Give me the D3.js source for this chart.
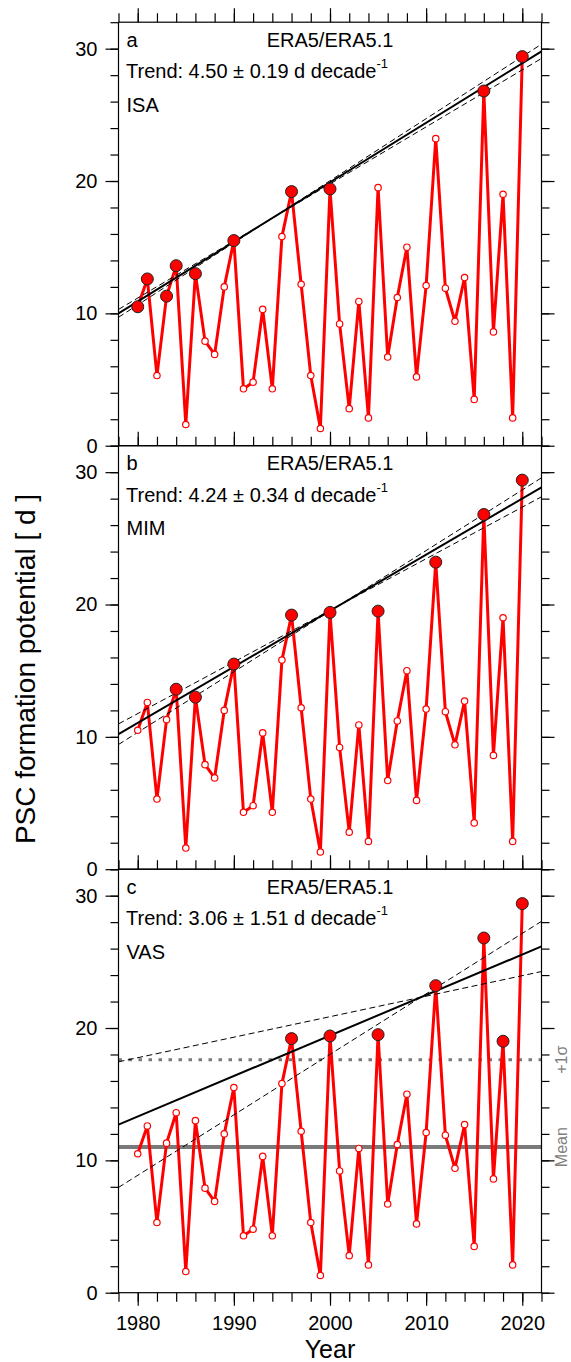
<!DOCTYPE html>
<html>
<head>
<meta charset="utf-8">
<script src="https://cdn.jsdelivr.net/npm/d3@7"></script>
<style>
  body { margin: 0; background: #fff; }
  svg { font-family: "Liberation Sans", Arial, Helvetica, sans-serif; }
</style>
</head>
<body>
<svg width="571" height="1362"></svg>
<script>
// PSC formation potential per year (d), same series in all three panels
var years = d3.range(1980, 2021);
var psc = [10.5, 12.6, 5.3, 11.3, 13.6, 1.6, 13.0, 7.9, 6.9, 12.0,
           15.5, 4.3, 4.8, 10.3, 4.3, 15.8, 19.2, 12.2, 5.3, 1.3,
           19.4, 9.2, 2.8, 10.9, 2.1, 19.5, 6.7, 11.2, 15.0, 5.2,
           12.1, 23.2, 11.9, 9.4, 12.7, 3.5, 26.8, 8.6, 19.0, 2.1,
           29.4];

var panelLetters = ["a", "b", "c"];
var methods = ["ISA", "MIM", "VAS"];
var filledYears = [
    [1980, 1981, 1983, 1984, 1986, 1990, 1996, 2000, 2016, 2020],
    [1984, 1986, 1990, 1996, 2000, 2005, 2011, 2016, 2020],
    [1996, 2000, 2005, 2011, 2016, 2018, 2020]
];
var trendRates = [4.50, 4.24, 3.06];   // d per decade
var trendErrors = [0.19, 0.34, 1.51];
var trendAt1978 = [10.0, 10.2, 12.7];
var meanVAS = 11.0;
var plusSigmaVAS = 17.6;

var yMajor = [0, 10, 20, 30];
var yMinor = d3.range(0, 33, 2);
var xMajor = [1980, 1990, 2000, 2010, 2020];
var xMinor = d3.range(1978, 2023, 2);

var svg = d3.select("svg");
var left = 118.5, plotW = 423, top0 = 22.2, panelH = 423.5;

var x = d3.scaleLinear().domain([1978, 2022]).range([left, left + plotW]);

svg.append("defs").append("clipPath").attr("id", "clip")
    .append("rect").attr("x", 0).attr("y", 0).attr("width", plotW).attr("height", panelH);

function drawPanel(i) {
    var top = top0 + i * panelH;
    var y = d3.scaleLinear().domain([0, 32]).range([top + panelH, top]);
    var g = svg.append("g");

    // axes: major + minor ticks, pointing outward
    var ax = function(axis, tr, vals, size, labels) {
        var a = axis.tickValues(vals).tickSize(size).tickSizeOuter(0);
        a.tickFormat(labels ? d3.format("d") : "");
        var s = g.append("g").attr("transform", tr).call(a);
        s.select(".domain").remove();
        s.selectAll("line").attr("stroke", "#000").attr("stroke-width", 1.2);
        s.selectAll("text").attr("font-size", 20).attr("fill", "#000")
            .attr("font-family", "Liberation Sans, Arial, sans-serif");
        return s;
    };
    ax(d3.axisLeft(y).tickPadding(8), "translate(" + left + ",0)", yMajor, 13, true);
    ax(d3.axisLeft(y), "translate(" + left + ",0)", yMinor, 8, false);
    ax(d3.axisRight(y), "translate(" + (left + plotW) + ",0)", yMajor, 13, false);
    ax(d3.axisRight(y), "translate(" + (left + plotW) + ",0)", yMinor, 8, false);
    ax(d3.axisTop(x), "translate(0," + top + ")", xMajor, 14, false);
    ax(d3.axisTop(x), "translate(0," + top + ")", xMinor, 9, false);
    if (i == 2) {
        ax(d3.axisBottom(x).tickPadding(10), "translate(0," + (top + panelH) + ")", xMajor, 13, true);
        ax(d3.axisBottom(x), "translate(0," + (top + panelH) + ")", xMinor, 9, false);
    }

    var inner = g.append("g").attr("transform", "translate(" + left + "," + top + ")")
        .append("g").attr("clip-path", "url(#clip)")
        .append("g").attr("transform", "translate(" + (-left) + "," + (-top) + ")");

    if (i == 2) {
        inner.append("line")
            .attr("x1", x(1978)).attr("x2", x(2022))
            .attr("y1", y(meanVAS)).attr("y2", y(meanVAS))
            .attr("stroke", "#7a7a7a").attr("stroke-width", 4);
        inner.append("line")
            .attr("x1", x(1978)).attr("x2", x(2022))
            .attr("y1", y(plusSigmaVAS)).attr("y2", y(plusSigmaVAS))
            .attr("stroke", "#7a7a7a").attr("stroke-width", 3)
            .attr("stroke-dasharray", "3.5,6.5");
    }

    var data = years.map(function(yr, k) { return {year: yr, v: psc[k]}; });

    inner.append("path").datum(data)
        .attr("fill", "none").attr("stroke", "#ff0000").attr("stroke-width", 3)
        .attr("stroke-linejoin", "round")
        .attr("d", d3.line().x(function(d) { return x(d.year); }).y(function(d) { return y(d.v); }));

    // trend line and its uncertainty lines through the mean of the fitted years
    var slope = trendRates[i] / 10, err = trendErrors[i] / 10;
    var x0 = d3.mean(filledYears[i]);
    var y0 = trendAt1978[i] + slope * (x0 - 1978);
    var lines = [
        {s: slope, w: 2, dash: null},
        {s: slope + err, w: 1, dash: "6,3.5"},
        {s: slope - err, w: 1, dash: "6,3.5"}
    ];
    lines.forEach(function(l) {
        inner.append("line")
            .attr("x1", x(1978)).attr("y1", y(y0 + l.s * (1978 - x0)))
            .attr("x2", x(2022)).attr("y2", y(y0 + l.s * (2022 - x0)))
            .attr("stroke", "#000").attr("stroke-width", l.w)
            .attr("stroke-dasharray", l.dash);
    });

    inner.selectAll(".dot").data(data).enter().append("circle")
        .attr("class", "dot")
        .attr("cx", function(d) { return x(d.year); })
        .attr("cy", function(d) { return y(d.v); })
        .attr("r", function(d) { return filledYears[i].indexOf(d.year) >= 0 ? 6 : 3.2; })
        .attr("fill", function(d) { return filledYears[i].indexOf(d.year) >= 0 ? "#ff0000" : "#fff"; })
        .attr("stroke", function(d) { return filledYears[i].indexOf(d.year) >= 0 ? "#222" : "#ff0000"; })
        .attr("stroke-width", function(d) { return filledYears[i].indexOf(d.year) >= 0 ? 1 : 1.2; });

    // frame
    g.append("rect").attr("x", left).attr("y", top).attr("width", plotW).attr("height", panelH)
        .attr("fill", "none").attr("stroke", "#000").attr("stroke-width", 1.2);

    // texts
    g.append("text").attr("x", left + 8).attr("y", top + 24.5).attr("font-size", 20).text(panelLetters[i]);
    g.append("text").attr("x", left + plotW / 2).attr("y", top + 24.5).attr("font-size", 20)
        .attr("text-anchor", "middle").text("ERA5/ERA5.1");
    var t = g.append("text").attr("x", left + 7.5).attr("y", top + 56).attr("font-size", 20);
    t.append("tspan").text("Trend: " + trendRates[i].toFixed(2) + " \u00b1 " + trendErrors[i].toFixed(2) + " d decade");
    t.append("tspan").attr("font-size", 13).attr("dy", -10).text("-1");
    g.append("text").attr("x", left + 8).attr("y", top + 89.5).attr("font-size", 20).text(methods[i]);

    if (i == 2) {
        [[meanVAS, "Mean"], [plusSigmaVAS, "+1\u03c3"]].forEach(function(m) {
            g.append("text")
                .attr("transform", "translate(567," + y(m[0]) + ") rotate(-90)")
                .attr("text-anchor", "middle").attr("font-size", 16).attr("fill", "#808080")
                .text(m[1]);
        });
    }
}

[0, 1, 2].forEach(drawPanel);

svg.append("text").attr("x", left + plotW / 2).attr("y", 1358).attr("text-anchor", "middle")
    .attr("font-size", 25).text("Year");
svg.append("text").attr("transform", "translate(35,669) rotate(-90)").attr("text-anchor", "middle")
    .attr("font-size", 28).text("PSC formation potential [ d ]");
</script>
</body>
</html>
